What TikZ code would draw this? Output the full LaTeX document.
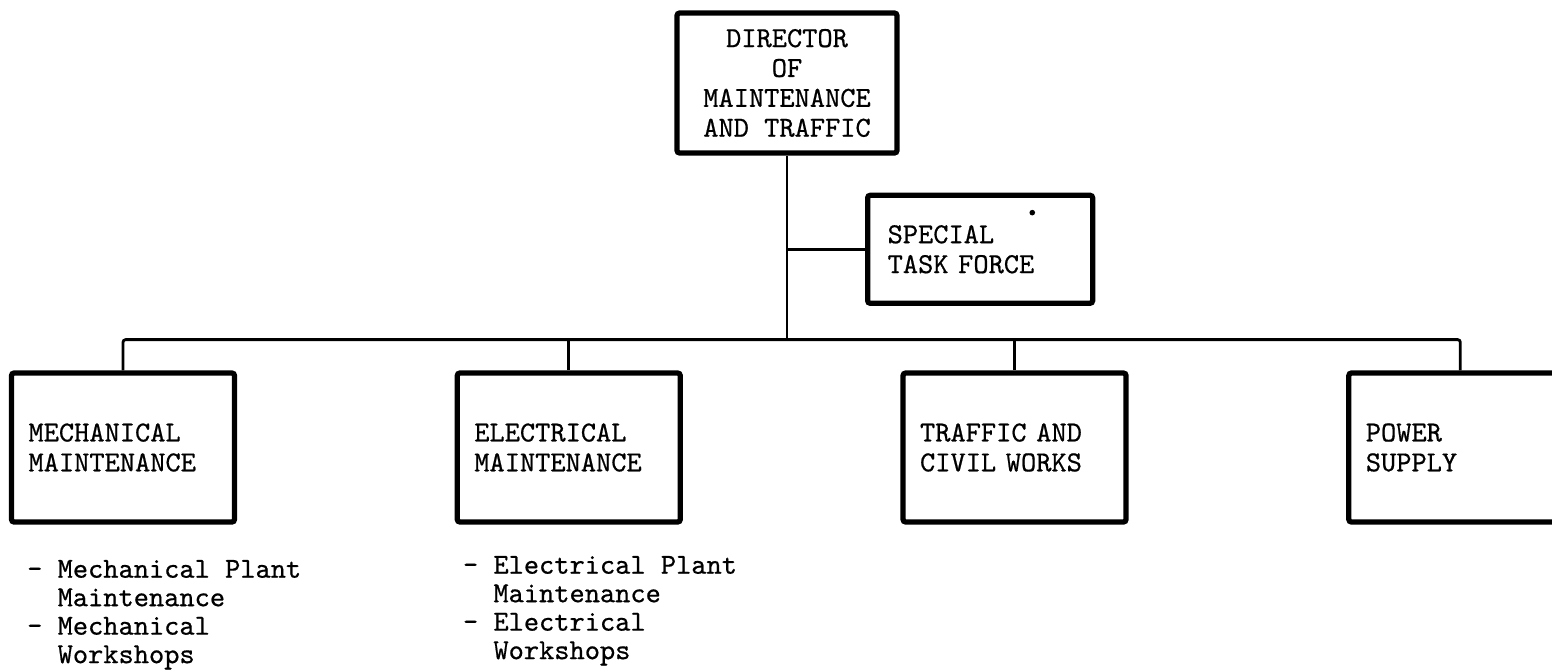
\documentclass[tikz,border=0pt]{standalone}
\usepackage{fontspec}
\usepackage{tikz}
\usetikzlibrary{positioning}
\newfontfamily\typer{lmmono10-regular.otf}[FakeBold=0.6]

\begin{document}
\begin{tikzpicture}[
      box/.style={draw, line width=3pt, rounded corners=1.5pt, inner ysep=0pt,
                  font=\typer\fontsize{16.5}{17}\selectfont},
      head/.style={box, minimum width=4.4cm, minimum height=2.8cm, align=center},
      task/.style={box, text width=3.7cm, inner xsep=0.4cm, minimum height=2.16cm, align=left},
      unit/.style={box, text width=3.78cm, inner xsep=0.34cm, minimum height=2.98cm, align=left},
      sub/.style={inner sep=0pt, anchor=north west, align=left,
                  font=\typer\fontsize{16.5}{16.2}\selectfont},
      link/.style={line width=1.6pt, rounded corners=1.5pt},
]
      \useasboundingbox (0,0) rectangle (31.04,-13.38);
      \clip (0,0) rectangle (31.04,-13.38);

      % Top: director and the special task force beside its line
      \node[head] (dir) at (15.74,-1.66) {DIRECTOR\\OF\\MAINTENANCE\\AND TRAFFIC};
      \node[task, anchor=north west] (task) at ([xshift=1.56cm, yshift=-0.74cm]dir.south)
            {SPECIAL\\TASK FORCE};
      \fill ([xshift=-1.26cm, yshift=-0.4cm]task.north east) circle (1.6pt);

      % Row 2: the four divisions
      \node[unit] (mech) at (2.46,-8.95) {MECHANICAL\\MAINTENANCE};
      \node[unit, right=4.35cm of mech] (elec) {ELECTRICAL\\MAINTENANCE};
      \node[unit, right=4.35cm of elec] (traf) {TRAFFIC AND\\CIVIL WORKS};
      \node[unit, right=4.35cm of traf] (power) {POWER\\SUPPLY};

      % Row 3: sections under the divisions
      \node[sub] (mechsub) at ([xshift=0.36cm, yshift=-0.7cm]mech.south west)
            {- Mechanical Plant\\\phantom{- }Maintenance\\- Mechanical\\\phantom{- }Workshops};
      \node[sub] (elecsub) at ([xshift=0.16cm, yshift=-0.62cm]elec.south west)
            {- Electrical Plant\\\phantom{- }Maintenance\\- Electrical\\\phantom{- }Workshops};

      % Lines
      \coordinate[below=3.68cm of dir.south] (bus);
      \draw[link] (dir.south) -- (bus);
      \draw[link] (task.west) -- (task.west -| dir.south);
      \draw[link] (mech.north) |- (bus) -| (power.north);
      \draw[link] (elec.north) -- (elec.north |- bus);
      \draw[link] (traf.north) -- (traf.north |- bus);

\end{tikzpicture}
\end{document}
